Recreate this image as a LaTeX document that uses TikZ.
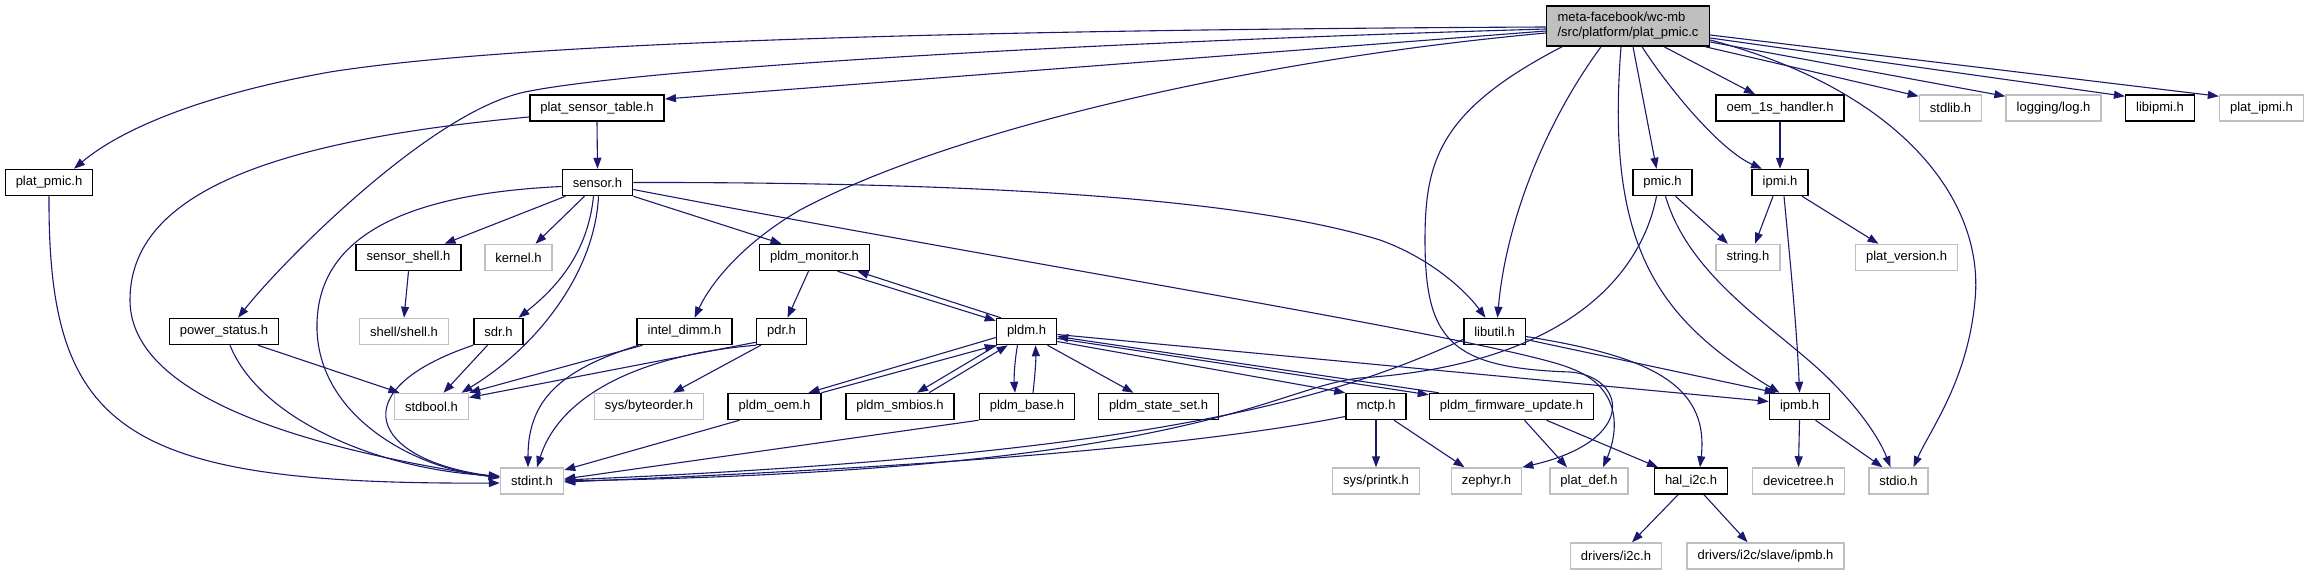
\documentclass[tikz,border=0pt]{standalone}
\usepackage{fontspec}
\setmainfont{Liberation Sans}
\usetikzlibrary{arrows.meta}
\definecolor{edgeblue}{HTML}{191970}
\newcommand{\hdrfont}{\fontsize{13pt}{15pt}\selectfont}
\tikzset{
  filenode/.style={
    rectangle, draw=#1, fill=white, line width=1.5pt,
    inner xsep=10.5pt, inner ysep=0pt, minimum height=26pt,
    font=\hdrfont, text=black
  },
  filenode/.default=black,
  sysnode/.style={filenode=gray!50},
  srcnode/.style={
    filenode=black, fill=gray!50, align=left,
    minimum height=40pt, inner xsep=11pt
  },
}
\begin{document}
\begin{tikzpicture}[
      x=1pt, y=-1pt,
      arr/.style={-{Triangle[length=11pt,width=8pt]}, line width=1.1pt, color=edgeblue}
    ]
    \path[use as bounding box, fill=white] (0,0) rectangle (2309,575);

    \node[srcnode]  (src)     at (1628,26)    {meta-facebook/wc-mb\\/src/platform/plat\_pmic.c};

    \node[filenode] (pst)     at (597,108)    {plat\_sensor\_table.h};
    \node[filenode] (oem1s)   at (1780,108)   {oem\_1s\_handler.h};
    \node[sysnode]  (stdlib)  at (1950.5,108) {stdlib.h};
    \node[sysnode]  (log)     at (2053.5,108) {logging/log.h};
    \node[filenode] (libipmi) at (2160,108)   {libipmi.h};
    \node[sysnode]  (pipmi)   at (2261.5,108) {plat\_ipmi.h};

    \node[filenode] (ppmic)   at (49,182.5)   {plat\_pmic.h};
    \node[filenode] (sens)    at (597.5,182.5) {sensor.h};
    \node[filenode] (pmic)    at (1662.5,182.5) {pmic.h};
    \node[filenode] (ipmi)    at (1780,182.5) {ipmi.h};

    \node[filenode] (sshell)  at (408.5,257.5) {sensor\_shell.h};
    \node[sysnode]  (kern)    at (518.5,257.5) {kernel.h};
    \node[filenode] (pmon)    at (814.5,257.5) {pldm\_monitor.h};
    \node[sysnode]  (string)  at (1748,257.5) {string.h};
    \node[sysnode]  (pver)    at (1906.5,257.5) {plat\_version.h};

    \node[filenode] (pstat)   at (224,331.5)  {power\_status.h};
    \node[sysnode]  (shell)   at (404,331.5)  {shell/shell.h};
    \node[filenode] (sdr)     at (498.5,331.5) {sdr.h};
    \node[filenode] (idimm)   at (684.5,331.5) {intel\_dimm.h};
    \node[filenode] (pdr)     at (781.5,331.5) {pdr.h};
    \node[filenode] (pldm)    at (1026.5,331.5) {pldm.h};
    \node[filenode] (lutil)   at (1494.5,331.5) {libutil.h};

    \node[sysnode]  (sbool)   at (431.5,406.5) {stdbool.h};
    \node[sysnode]  (border)  at (649,406.5)  {sys/byteorder.h};
    \node[filenode] (poem)    at (774.5,406.5) {pldm\_oem.h};
    \node[filenode] (psmb)    at (900,406.5)  {pldm\_smbios.h};
    \node[filenode] (pbase)   at (1027,406.5) {pldm\_base.h};
    \node[filenode] (pstate)  at (1158.5,406.5) {pldm\_state\_set.h};
    \node[filenode] (mctp)    at (1376,406.5) {mctp.h};
    \node[filenode] (pfw)     at (1511.5,406.5) {pldm\_firmware\_update.h};
    \node[filenode] (ipmb)    at (1799.5,406.5) {ipmb.h};

    \node[sysnode]  (sint)    at (532,481)    {stdint.h};
    \node[sysnode]  (printk)  at (1376,481)   {sys/printk.h};
    \node[sysnode]  (zeph)    at (1486.5,481) {zephyr.h};
    \node[sysnode]  (pdef)    at (1589,481)   {plat\_def.h};
    \node[filenode] (hali2c)  at (1691,481)   {hal\_i2c.h};
    \node[sysnode]  (dtree)   at (1798.5,481) {devicetree.h};
    \node[sysnode]  (stdio)   at (1898.5,481) {stdio.h};

    \node[sysnode]  (di2c)    at (1616,556)   {drivers/i2c.h};
    \node[sysnode]  (dipmb)   at (1765.5,556) {drivers/i2c/slave/ipmb.h};

    \foreach \a/\b in {pst/sens, sshell/shell, oem1s/ipmi, mctp/printk, ipmb/dtree}
      \draw[arr] (\a.south)--(\b.north);

    % plat_pmic.c
    \draw[arr] ([yshift=-1pt]src.west) .. controls (900,30) and (500,45) .. (330,72)
               .. controls (200,95) and (120,130) .. ([xshift=25pt]ppmic.north);
    \draw[arr] ([yshift=-3pt]src.west) .. controls (1000,45) and (620,72) .. (525,92)
               .. controls (430,112) and (282,262) .. ([xshift=14pt]pstat.north);
    \draw[arr] ([yshift=-5pt]src.west) -- ([yshift=9pt]pst.east);
    \draw[arr] ([yshift=-7pt]src.west) .. controls (1250,60) and (950,130) .. (800,210)
               .. controls (740,245) and (710,285) .. ([xshift=10pt]idimm.north);
    \draw[arr] ([xshift=-27pt]src.south) .. controls (1540,130) and (1505,230) .. ([xshift=3pt]lutil.north);
    \draw[arr] ([xshift=-66pt]src.south) .. controls (1440,110) and (1425,160) .. (1425,240)
               .. controls (1425,340) and (1450,368) .. (1570,372)
               .. controls (1625,376) and (1640,440) .. (zeph.north east);
    \draw[arr] ([xshift=-7pt]src.south) .. controls (1605,250) and (1660,320) .. ([xshift=-20pt]ipmb.north);
    \draw[arr] ([xshift=5pt]src.south) -- ([xshift=-6pt]pmic.north);
    \draw[arr] ([xshift=14pt]src.south) .. controls (1670,90) and (1720,150) .. ([xshift=-18pt]ipmi.north);
    \draw[arr] ([xshift=36pt]src.south) -- ([xshift=-25pt]oem1s.north);
    \draw[arr] ([xshift=-5pt]src.south east) -- ([yshift=-2pt]stdlib.north west);
    \draw[arr] ([yshift=-16pt]src.east) -- ([yshift=-2pt]log.north west);
    \draw[arr] ([yshift=-14pt]src.east) .. controls (1900,90) and (1985,200) .. (1975,300)
               .. controls (1968,380) and (1930,430) .. ([xshift=15pt]stdio.north);
    \draw[arr] ([yshift=-12pt]src.east) -- ([yshift=-2pt]libipmi.north west);
    \draw[arr] ([yshift=-9pt]src.east) -- ([yshift=-2pt]pipmi.north west);

    % sensor side
    \draw[arr] ([yshift=-7pt]sens.east) .. controls (1000,260) and (1500,340) .. (1570,368)
               .. controls (1625,388) and (1617,435) .. ([xshift=14pt]pdef.north);
    \draw[arr] (sens.east) .. controls (1000,182) and (1250,200) .. (1380,240)
               .. controls (1430,258) and (1465,290) .. ([xshift=-9pt]lutil.north);
    \draw[arr] ([yshift=-4pt]sens.west) .. controls (380,195) and (315,250) .. (317,330)
               .. controls (320,420) and (420,470) .. ([yshift=4pt]sint.west);
    \draw[arr] ([xshift=1pt]sens.south) .. controls (595,270) and (540,345) .. ([xshift=30pt]sbool.north);
    \draw[arr] ([xshift=-4pt]sens.south) .. controls (588,250) and (560,285) .. ([xshift=20pt]sdr.north);
    \draw[arr] ([xshift=-13pt]sens.south) -- ([xshift=17pt]kern.north);
    \draw[arr] ([xshift=-32pt]sens.south) -- ([xshift=36pt]sshell.north);
    \draw[arr] (sens.south east) -- ([xshift=-33pt]pmon.north);

    \draw[arr] ([yshift=-9pt]pst.west) .. controls (280,140) and (130,190) .. (130,300)
               .. controls (130,380) and (250,440) .. ([yshift=3pt]sint.west);
    \draw[arr] (ppmic.south) .. controls (48,430) and (120,485) .. ([yshift=-2pt]sint.west);
    \draw[arr] ([xshift=34pt]pstat.south) -- ([xshift=-32pt]sbool.north);
    \draw[arr] ([xshift=6pt]pstat.south) .. controls (260,420) and (380,470) .. ([yshift=5pt]sint.west);
    \draw[arr] ([xshift=-11pt]sdr.south) -- ([xshift=12pt]sbool.north);
    \draw[arr] (sdr.south west) .. controls (340,390) and (370,460) .. ([yshift=4pt]sint.west);
    \draw[arr] ([xshift=-42pt]idimm.south) -- (sbool.north east);
    \draw[arr] ([xshift=-46pt]idimm.south) .. controls (560,370) and (528,400) .. ([xshift=-4pt]sint.north);
    \draw[arr] ([yshift=3pt]pdr.south west) -- ([yshift=9pt]sbool.east);
    \draw[arr] (pdr.south west) .. controls (640,355) and (560,395) .. ([xshift=5pt]sint.north);
    \draw[arr] ([xshift=5pt]pdr.south west) -- ([xshift=24pt]border.north);

    % pldm family
    \draw[arr] ([xshift=-6pt]pmon.south) -- ([xshift=6pt]pdr.north);
    \draw[arr] ([xshift=23pt]pmon.south) -- ([yshift=-3pt]pldm.north west);
    \draw[arr] ([xshift=5pt]pldm.north west) -- ([xshift=43pt]pmon.south);
    \draw[arr] ([yshift=-6pt]pldm.west) -- ([xshift=34pt]poem.north);
    \draw[arr] (poem.north east) -- (pldm.south west);
    \draw[arr] ([xshift=1pt]pldm.south west) -- ([xshift=17pt]psmb.north);
    \draw[arr] ([xshift=29pt]psmb.north) -- ([xshift=12pt]pldm.south west);
    \draw[arr] ([xshift=-9pt]pldm.south) .. controls (1014,365) and (1014,380) .. ([xshift=-12pt]pbase.north);
    \draw[arr] ([xshift=6pt]pbase.north) .. controls (1035,375) and (1036,360) .. ([xshift=9pt]pldm.south);
    \draw[arr] ([xshift=21pt]pldm.south) -- ([xshift=-25pt]pstate.north);
    \draw[arr] ([yshift=-10pt]pldm.east) -- (mctp.north west);
    \draw[arr] ([yshift=-7pt]pldm.east) -- ([yshift=-2pt]pfw.north west);
    \draw[arr] ([xshift=10pt]pfw.north west) -- ([yshift=-5pt]pldm.east);
    \draw[arr] ([yshift=-3pt]pldm.east) -- ([yshift=5pt]ipmb.west);
    \draw[arr] ([xshift=-35pt]poem.south) -- ([yshift=11pt]sint.east);
    \draw[arr] (pbase.south west) -- ([yshift=2pt]sint.east);
    \draw[arr] ([yshift=-8pt]lutil.west) .. controls (1330,400) and (1150,455) .. ([yshift=1pt]sint.east);
    \draw[arr] ([yshift=-10pt]mctp.west) .. controls (1150,455) and (800,472) .. ([yshift=-1pt]sint.east);

    % ipmi side
    \draw[arr] ([xshift=-6pt]pmic.south) .. controls (1640,280) and (1560,365) .. (1360,378)
               .. controls (1270,388) and (1200,470) .. (sint.east);
    \draw[arr] ([xshift=13pt]pmic.south) -- ([xshift=-20pt]string.north);
    \draw[arr] ([xshift=3pt]pmic.south) .. controls (1690,280) and (1780,330) .. (1830,380)
               .. controls (1862,412) and (1880,440) .. ([xshift=-8pt]stdio.north);
    \draw[arr] ([xshift=-7pt]ipmi.south) -- ([xshift=7pt]string.north);
    \draw[arr] ([xshift=22pt]ipmi.south) -- ([xshift=-28pt]pver.north);
    \draw[arr] ([xshift=4pt]ipmi.south) .. controls (1790,260) and (1797,330) .. (ipmb.north);
    \draw[arr] ([xshift=16pt]ipmb.south) -- ([xshift=-16pt]stdio.north);
    \draw[arr] ([yshift=-8pt]lutil.east) -- ([xshift=7pt]ipmb.north west);
    \draw[arr] ([yshift=-5pt]lutil.east) .. controls (1640,355) and (1710,380) .. ([xshift=9pt]hali2c.north);
    \draw[arr] ([xshift=13pt]pfw.south) -- ([xshift=-22pt]pdef.north);
    \draw[arr] ([xshift=35pt]pfw.south) -- ([xshift=-33pt]hali2c.north);
    \draw[arr] ([xshift=18pt]mctp.south) -- ([xshift=-22pt]zeph.north);
    \draw[arr] ([xshift=-13pt]hali2c.south) -- ([xshift=16pt]di2c.north);
    \draw[arr] ([xshift=13pt]hali2c.south) -- ([xshift=-18pt]dipmb.north);

  \end{tikzpicture}
\end{document}
